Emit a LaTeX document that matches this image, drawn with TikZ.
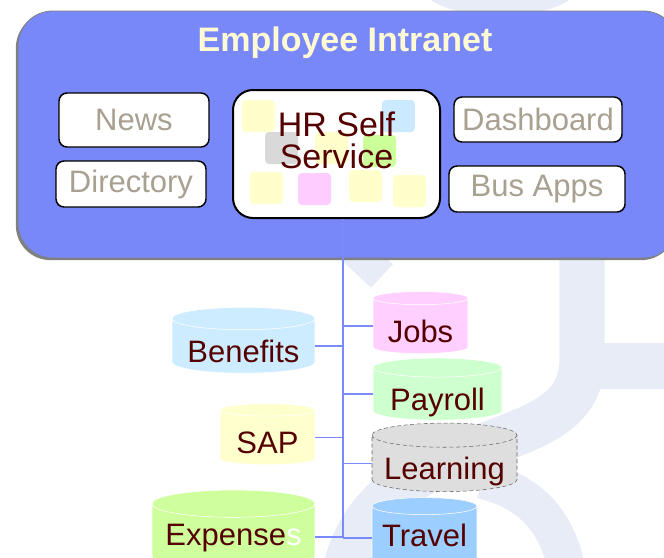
\documentclass[tikz,border=0pt]{standalone}
\usepackage{fontspec}
\setmainfont{Liberation Sans}
\usetikzlibrary{shapes.geometric,shadows,positioning}

\definecolor{intranetblue}{RGB}{120,136,248}
\definecolor{titlecream}{RGB}{255,250,212}
\definecolor{labelgray}{RGB}{168,160,144}
\definecolor{hrtext}{RGB}{85,0,0}
\definecolor{linkblue}{RGB}{122,138,250}
\definecolor{wmark}{RGB}{232,236,247}
\definecolor{tileyellow}{RGB}{255,255,204}
\definecolor{tileblue}{RGB}{204,234,255}
\definecolor{tilegray}{RGB}{217,217,217}
\definecolor{tilegreen}{RGB}{204,255,153}
\definecolor{tilepink}{RGB}{255,204,255}
\definecolor{dbpink}{RGB}{255,208,255}
\definecolor{dbblue}{RGB}{206,236,255}
\definecolor{dbgreen}{RGB}{206,255,206}
\definecolor{dbyellow}{RGB}{255,255,206}
\definecolor{dbgray}{RGB}{222,222,222}
\definecolor{dblime}{RGB}{206,255,156}
\definecolor{dbsky}{RGB}{156,206,255}

\begin{document}
\begin{tikzpicture}[x=0.75pt,y=-0.75pt,
    app/.style={draw=black,line width=1.1pt,fill=white,rounded corners=6pt,
                text=labelgray,font=\fontsize{23.25}{26}\selectfont,inner sep=0pt},
    db/.style={cylinder,shape border rotate=90,aspect=0.2,
               cylinder uses custom fill,cylinder body fill=#1,cylinder end fill=#1,
               draw=white,line width=0.4pt,text=hrtext,
               font=\fontsize{23.25}{26}\selectfont,inner sep=0pt,
               text height=24pt,text depth=0pt},
    link/.style={draw=linkblue,line width=1.4pt}]

  \useasboundingbox (0,0) rectangle (664,557);

  % faint logo in the back
  \fill[wmark] (500,-16) ellipse [x radius=80, y radius=32];
  \draw[wmark,line width=34pt] (582,240) -- (582,360)
        .. controls (582,420) and (520,430) .. (460,455)
        .. controls (400,480) and (360,510) .. (345,570);
  \draw[wmark,line width=34pt] (582,366) -- (680,366);
  \draw[wmark,line width=28pt] (482,480) .. controls (530,492) and (558,520) .. (568,575);
  \draw[wmark,line width=24pt] (352,248) -- (382,276);

  % intranet
  \node[draw=gray,line width=0.6pt,fill=intranetblue,rounded corners=26pt,
        minimum width=495pt,minimum height=185.25pt,
        drop shadow={shadow xshift=-1.6pt,shadow yshift=-1.6pt,fill=gray,opacity=1}]
        (intranet) at (348,134.5) {};
  \node[text=titlecream,font=\bfseries\fontsize{25.5}{28}\selectfont,anchor=base]
        (title) at (345,51) {Employee Intranet};

  \node[app,minimum width=112.5pt,minimum height=40.5pt]  (news)      at (134,120)   {News};
  \node[app,minimum width=112.5pt,minimum height=34.5pt]  (directory) at (131,184)   {Directory};
  \node[app,minimum width=126pt,minimum height=33.75pt]   (dashboard) at (538,119.5) {Dashboard};
  \node[app,minimum width=132pt,minimum height=34.5pt]    (busapps)   at (537,189)   {Bus Apps};

  \node[draw=black,line width=1.5pt,fill=white,rounded corners=15pt,
        minimum width=155.25pt,minimum height=96pt] (hr) at (336.5,154) {};
  \foreach \x/\y/\c in {242/100/tileyellow,382/100/tileblue,265/132/tilegray,
                        315/132/tileyellow,363/135/tilegreen,250/172/tileyellow,
                        298/173/tilepink,349/170/tileyellow,393/175/tileyellow}
    \fill[\c,rounded corners=3pt] (\x,\y) rectangle ++(33,32);
  \node[text=hrtext,font=\fontsize{25.5}{24}\selectfont,align=center]
        (hrlabel) at (336.5,140) {HR Self\\Service};

  % data stores
  \coordinate (trunk) at (343,538);
  \node[db=dbpink,  minimum width=71.25pt, minimum height=46.5pt]  (jobs)     at (420.5,326)   {Jobs};
  \node[db=dbblue,  minimum width=107.25pt,minimum height=46.5pt]  (benefits) at (243.5,346)   {Benefits};
  \node[db=dbgreen, minimum width=96.75pt, minimum height=46.5pt]  (payroll)  at (437.5,394)   {Payroll};
  \node[db=dbyellow,minimum width=71.25pt, minimum height=45.75pt] (sap)      at (267.5,437.5) {SAP};
  \node[db=dbgray,draw=black!60,densely dashed,
        minimum width=108.75pt,minimum height=47.25pt]             (learning) at (444.5,463.5) {Learning};
  \node[db=dblime,text height=12pt,
        minimum width=122.25pt,minimum height=60pt]                (expenses) at (233.5,537)   {Expense\textcolor{white}{s}};
  \node[db=dbsky,text height=12pt,
        minimum width=78.75pt, minimum height=54pt]                (travel)   at (424.5,538)   {Travel};

  \draw[link] (hr.south -| trunk) -- (trunk);
  \draw[link] (benefits.east) -- (benefits.east -| trunk);
  \draw[link] (sap.east)      -- (sap.east -| trunk);
  \draw[link] (expenses.east) -- (expenses.east -| trunk);
  \draw[link] (trunk |- jobs.west)     -- (jobs.west);
  \draw[link] (trunk |- payroll.west)  -- (payroll.west);
  \draw[link] (trunk |- learning.west) -- (learning.west);
  \draw[link] (trunk |- travel.west)   -- (travel.west);
\end{tikzpicture}
\end{document}
